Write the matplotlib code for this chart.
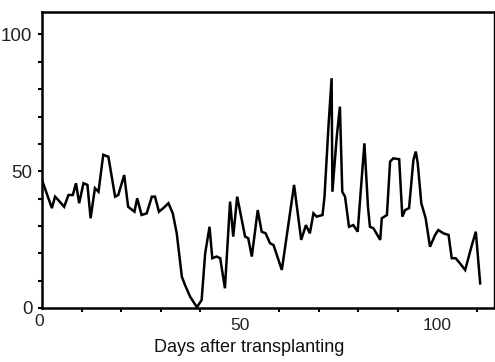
import matplotlib
matplotlib.use("Agg")
import matplotlib.pyplot as plt
from matplotlib.ticker import FixedLocator
from matplotlib import font_manager
from matplotlib.transforms import ScaledTranslation

days = [0.0, 2.5, 3.3, 4.1, 5.6, 6.7, 7.8, 8.6, 9.4, 10.5, 11.5, 12.3, 13.4, 14.3,
        15.5, 16.8, 18.5, 19.3, 20.8, 21.8, 23.4, 24.1, 25.2, 26.5, 27.8, 28.6,
        29.6, 30.7, 32.0, 33.1, 34.1, 35.4, 36.2, 37.5, 39.2, 40.4, 41.3, 42.4,
        43.1, 44.2, 45.1, 46.3, 47.6, 48.4, 49.4, 51.4, 52.2, 53.1, 54.6, 55.6,
        56.6, 57.7, 58.6, 60.7, 63.8, 65.6, 66.8, 67.8, 68.7, 69.5, 71.0, 71.5,
        72.5, 73.3, 73.5, 74.6, 75.4, 76.0, 76.7, 77.7, 78.8, 79.9, 80.5, 81.6,
        82.5, 83.0, 83.9, 85.6, 86.0, 87.3, 88.1, 88.9, 90.4, 91.2, 91.9, 92.9,
        94.0, 94.6, 95.1, 96.0, 97.1, 98.2, 99.5, 100.3, 101.6, 102.9, 103.7,
        104.7, 105.8, 107.1, 108.8, 109.8, 110.9]
values = [46.8, 36.5, 40.7, 39.5, 37.0, 41.3, 41.3, 45.6, 38.3, 45.6, 45.0, 32.8,
          43.8, 42.5, 56.0, 55.3, 40.7, 41.3, 48.6, 37.0, 35.2, 40.1, 34.0, 34.6,
          40.7, 40.7, 35.2, 36.5, 38.3, 34.6, 27.3, 11.4, 8.4, 4.1, 0.3, 2.9, 20.0,
          29.7, 18.2, 18.8, 18.2, 7.2, 38.9, 26.1, 40.7, 26.1, 25.5, 18.8, 35.8,
          27.9, 27.3, 23.7, 23.0, 13.9, 45.0, 24.9, 30.3, 27.3, 34.6, 33.4, 34.0,
          40.7, 66.3, 84.0, 42.5, 62.6, 73.6, 42.5, 40.7, 29.7, 30.3, 27.9, 39.5,
          60.2, 37.0, 29.7, 29.1, 24.9, 32.8, 34.0, 53.5, 54.7, 54.4, 33.4, 35.8,
          36.5, 54.1, 57.2, 52.9, 38.3, 32.8, 22.4, 26.7, 28.5, 27.3, 26.7, 18.2,
          18.2, 16.3, 13.9, 23.0, 27.9, 9.0]

x_labels = ["0", "50", "100"]
y_labels = ["0", "50", "100"]
xlabel = "Days after transplanting"

names = {f.name for f in font_manager.fontManager.ttflist}
narrow = "Liberation Sans Narrow" if "Liberation Sans Narrow" in names else "Liberation Sans"

fig = plt.figure(figsize=(4.95, 3.62), dpi=100)
ax = fig.add_axes([42/495, 1-308/362, (494-42)/495, (308-12)/362])
ax.plot(days, values, color="black", lw=1.8, solid_joinstyle="miter")
ax.set_xlim(0, 114.4)
ax.set_ylim(0, 108.2)

ax.xaxis.set_major_locator(FixedLocator([0, 50, 100]))
ax.xaxis.set_minor_locator(FixedLocator([10, 20, 30, 40, 60, 70, 80, 90, 110]))
ax.yaxis.set_major_locator(FixedLocator([0, 50, 100]))
ax.yaxis.set_minor_locator(FixedLocator([10, 20, 30, 40, 60, 70, 80, 90]))
ax.set_xticklabels(x_labels)
ax.set_yticklabels(y_labels)
ax.tick_params(which="both", direction="out", length=3, width=1.5, color="black")
ax.tick_params(axis="x", which="major", length=0, pad=7)
ax.tick_params(axis="y", which="major", pad=4)
for lab in ax.get_yticklabels():
    lab.set_fontfamily(narrow)
    lab.set_fontsize(13.5)
    lab.set_color("#222222")
for lab in ax.get_xticklabels():
    lab.set_fontfamily(narrow)
    lab.set_fontsize(12.5)
    lab.set_color("#222222")
xl0 = ax.get_xticklabels()[0]
xl0.set_transform(xl0.get_transform() + ScaledTranslation(-3/100, 4/100, fig.dpi_scale_trans))

for s in ["left", "bottom", "top"]:
    ax.spines[s].set_linewidth(1.8)
ax.spines["right"].set_linewidth(1.0)

fig.text(249.5/495, 1-352.5/362, xlabel, fontfamily="Liberation Sans", fontsize=13,
         ha="center", va="baseline", color="#111111")

fig.savefig("out.png", dpi=100)
